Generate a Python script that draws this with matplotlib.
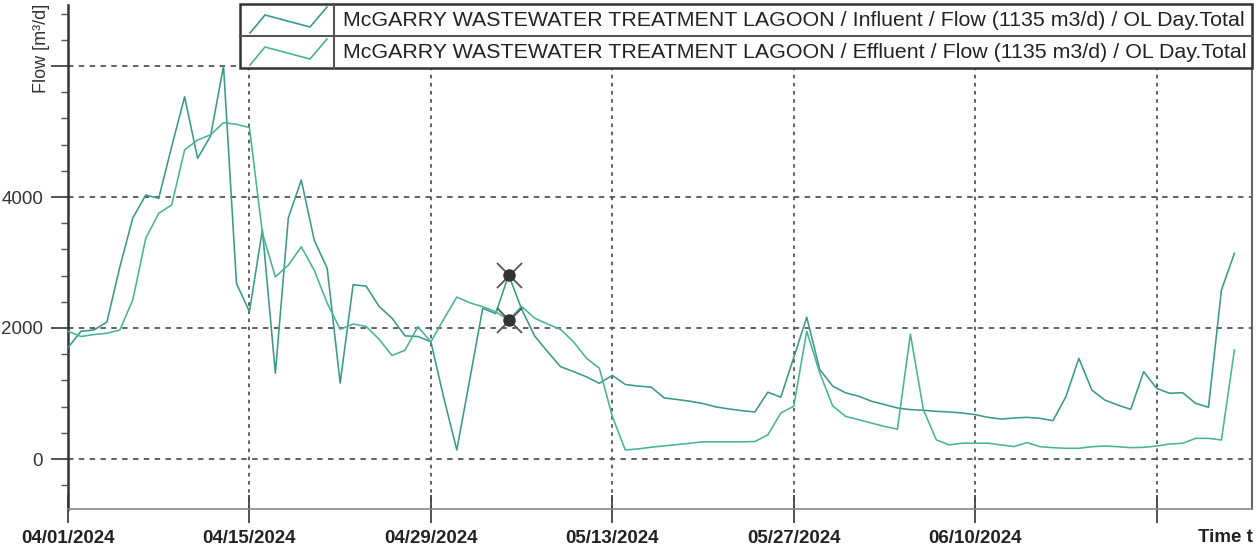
import numpy as np
import matplotlib
matplotlib.use('Agg')
import matplotlib.pyplot as plt
import matplotlib.dates as mdates
from matplotlib import font_manager
from matplotlib.lines import Line2D
from matplotlib.patches import Rectangle
from matplotlib.ticker import MultipleLocator, FixedLocator, FixedFormatter

# ---------------- data ----------------
start_date = '2024-04-01'
influent = [1700, 1950, 1970, 2090, 2930, 3680, 4030, 3980, 4770, 5530,
            4590, 4930, 6000, 2680, 2250, 3500, 1310, 3680, 4260, 3340,
            2910, 1160, 2660, 2640, 2330, 2150, 1880, 1870, 1790, 930,
            138, 1215, 2300, 2220, 2810, 2290, 1880, 1640, 1410, 1335,
            1255, 1155, 1277, 1138, 1113, 1097, 933, 908, 882, 846,
            795, 764, 738, 718, 1020, 944, 1549, 2164, 1369, 1113,
            1010, 959, 882, 831, 779, 754, 744, 728, 718, 702,
            677, 636, 610, 626, 636, 621, 585, 952, 1537, 1053,
            900, 824, 758, 1333, 1079, 1003, 1013, 850, 790, 2580,
            3140]
effluent = [1950, 1870, 1900, 1920, 1970, 2430, 3370, 3750, 3880, 4720,
            4870, 4950, 5135, 5110, 5060, 3450, 2780, 2960, 3240, 2880,
            2380, 1980, 2060, 2025, 1830, 1580, 1660, 2020, 1790, 2138,
            2472, 2385, 2325, 2250, 2120, 2330, 2150, 2060, 1980, 1790,
            1540, 1385, 651, 138, 154, 180, 200, 220, 241, 262,
            262, 262, 262, 267, 369, 702, 805, 1950, 1318, 810,
            651, 600, 549, 497, 456, 1908, 754, 292, 215, 241,
            241, 241, 215, 190, 251, 188, 173, 163, 163, 188,
            198, 188, 173, 178, 198, 229, 239, 315, 315, 290,
            1664]
legend_labels = ['McGARRY WASTEWATER TREATMENT LAGOON / Influent / Flow (1135 m3/d) / OL Day.Total',
                 'McGARRY WASTEWATER TREATMENT LAGOON / Effluent / Flow (1135 m3/d) / OL Day.Total']
tick_dates = ['2024-04-01', '2024-04-15', '2024-04-29', '2024-05-13',
              '2024-05-27', '2024-06-10', '2024-06-24']
tick_labels = ['04/01/2024', '04/15/2024', '04/29/2024', '05/13/2024',
               '05/27/2024', '06/10/2024', '']
y_ticks = [0, 2000, 4000, 6000]
y_ticklabels = ['0', '2000', '4000', '']
marker_date = '2024-05-05'
y_label = 'Flow [m³/d]'
x_label = 'Time t'

# ---------------- fonts ----------------
names = {f.name for f in font_manager.fontManager.ttflist}
NARROW = 'Liberation Sans Narrow' in names
base_font = 'Liberation Sans' if 'Liberation Sans' in names else 'DejaVu Sans'
tick_font = 'Liberation Sans Narrow' if NARROW else base_font
tick_size = 15 if NARROW else 13.5
plt.rcParams['font.family'] = [base_font, 'DejaVu Sans']

W, H = 1260, 550
fig = plt.figure(figsize=(W / 100, H / 100), dpi=100)
fig.patch.set_facecolor('white')


def fx(px):
    return px / W


def fy(py):
    return 1 - py / H


ax_l, ax_r, ax_t, ax_b = 68, 1252, 5, 509
ax = fig.add_axes([fx(ax_l), fy(ax_b), (ax_r - ax_l) / W, (ax_b - ax_t) / H])

dates = np.datetime64(start_date) + np.arange(len(influent))
col_inf = '#3a9a88'
col_eff = '#47b594'
ax.plot(dates, influent, color=col_inf, lw=1.15, zorder=3)
ax.plot(dates, effluent, color=col_eff, lw=1.15, zorder=3)

# cursor markers
mi = int((np.datetime64(marker_date) - np.datetime64(start_date)).astype(int))
for v in (influent[mi], effluent[mi]):
    ax.plot([dates[mi]], [v], marker='x', ms=18, mew=1.3, color='#555555', zorder=5, ls='none')
    ax.plot([dates[mi]], [v], marker='o', ms=8, color='#333333', zorder=6, ls='none')

x0 = mdates.date2num(np.datetime64(start_date))
ax.set_xlim(x0, x0 + (ax_r - ax_l) / 12.96)
y_per_px = 2000 / 131.0
ax.set_ylim(-(ax_b - 459) * y_per_px, (459 - ax_t) * y_per_px)

# grid
for v in y_ticks:
    ax.axhline(v, color='#555555', lw=1.3, ls=(0, (3, 3)), zorder=1)
for d in tick_dates[1:]:
    ax.axvline(mdates.date2num(np.datetime64(d)), color='#555555', lw=1.3,
               ls=(0, (2, 2.5)), zorder=1)

# ticks
ax.yaxis.set_major_locator(FixedLocator(y_ticks))
ax.yaxis.set_major_formatter(FixedFormatter(y_ticklabels))
ax.yaxis.set_minor_locator(MultipleLocator(400))
ax.tick_params(axis='y', which='major', direction='out', length=12, width=1.3,
               color='#444444', labelsize=13.5, labelcolor='#333333', pad=6)
ax.tick_params(axis='y', which='minor', direction='out', length=5, width=1.0, color='#555555')

ax.xaxis.set_major_locator(FixedLocator([mdates.date2num(np.datetime64(d)) for d in tick_dates]))
ax.xaxis.set_major_formatter(FixedFormatter(tick_labels))
ax.tick_params(axis='x', which='major', direction='inout', length=20, width=1.3,
               color='#444444', labelsize=tick_size, pad=5)
for lab in ax.get_xticklabels():
    lab.set_fontfamily([tick_font, 'DejaVu Sans'])
    lab.set_fontweight('bold')
    lab.set_color('#222222')

ax.spines['top'].set_visible(False)
ax.spines['left'].set_color('#333333')
ax.spines['left'].set_linewidth(1.8)
ax.spines['bottom'].set_color('#888888')
ax.spines['bottom'].set_linewidth(1.2)
ax.spines['right'].set_color('#666666')
ax.spines['right'].set_linewidth(1.5)

# y label and x label
fig.text(fx(42), fy(4), y_label, rotation=90, ha='center', va='top',
         fontsize=13, color='#333333')
fig.text(fx(1253), fy(538), x_label, ha='right', va='center', fontsize=tick_size,
         fontweight='bold', color='#222222', family=[tick_font, 'DejaVu Sans'])

# legend box
lg_l, lg_r, lg_t, lg_m, lg_b, lg_div = 240, 1252, 4, 36, 68, 334
fig.add_artist(Rectangle((fx(lg_l), fy(lg_b)), (lg_r - lg_l) / W, (lg_b - lg_t) / H,
                         transform=fig.transFigure, facecolor='white',
                         edgecolor='#333333', lw=1.8, zorder=10))
fig.add_artist(Line2D([fx(lg_l), fx(lg_r)], [fy(lg_m), fy(lg_m)], transform=fig.transFigure,
                      color='#555555', lw=1.5, zorder=11))
fig.add_artist(Line2D([fx(lg_div), fx(lg_div)], [fy(lg_t), fy(lg_b)], transform=fig.transFigure,
                      color='#555555', lw=1.5, zorder=11))
icon_x = [250, 265, 310, 327]
icon_y = [29, 11, 23, 3]
for i, (lab, col) in enumerate(zip(legend_labels, [col_inf, col_eff])):
    off = lg_t + i * (lg_m - lg_t)
    fig.add_artist(Line2D([fx(x) for x in icon_x], [fy(y + off) for y in icon_y],
                          transform=fig.transFigure, color=col, lw=1.2, zorder=12))
    t = fig.text(fx(343), fy(off + (lg_m - lg_t) / 2 + 1), lab, ha='left', va='center',
                 fontsize=14, color='#222222', zorder=12)
    fig.canvas.draw()
    bb = t.get_window_extent(fig.canvas.get_renderer())
    t.set_fontsize(14 * 905 / bb.width)

fig.savefig('out.png', dpi=100, facecolor='white')
